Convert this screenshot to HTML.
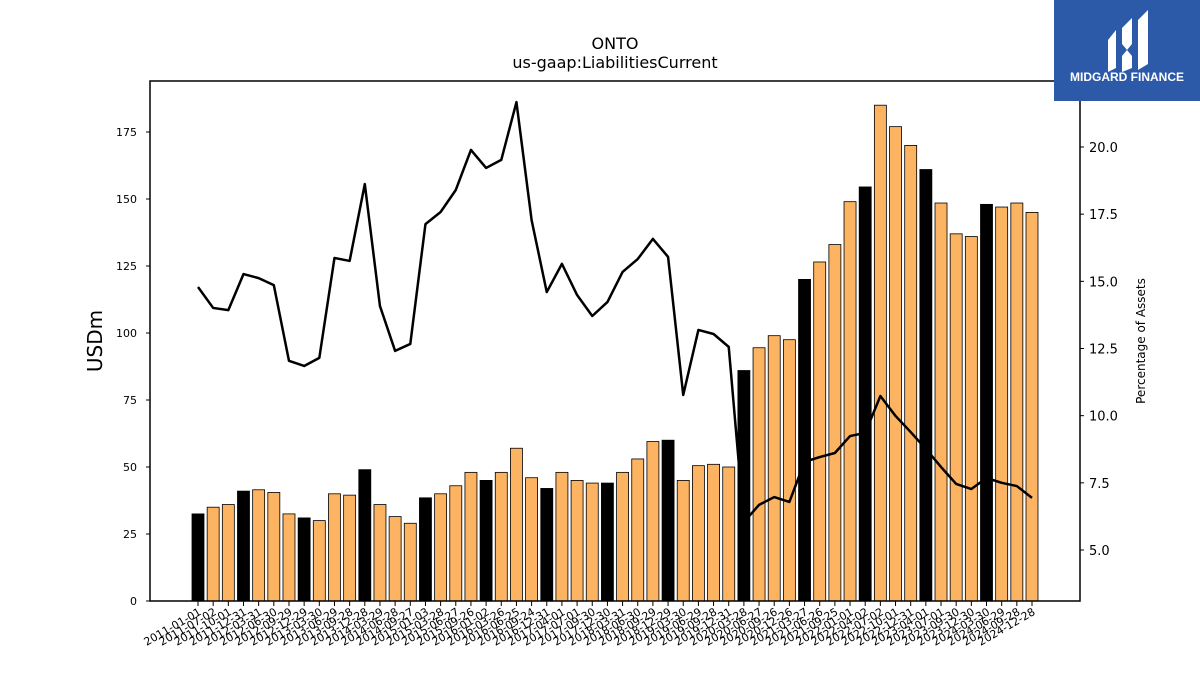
<!DOCTYPE html>
<html><head><meta charset="utf-8">
<style>
html,body{margin:0;padding:0;background:#fff;width:1200px;height:675px;overflow:hidden;font-family:"Liberation Sans","DejaVu Sans",sans-serif;}
svg text{font-family:"DejaVu Sans","Liberation Sans",sans-serif;}
</style></head>
<body>
<svg id="chart" width="1200" height="675" xmlns="http://www.w3.org/2000/svg">
<text x="615" y="49" font-size="16" text-anchor="middle">ONTO</text>
<text x="615" y="68" font-size="16" text-anchor="middle">us-gaap:LiabilitiesCurrent</text>
<g id="bars"></g>
<g id="line"></g>
<rect x="150" y="81" width="930" height="520" fill="none" stroke="#000" stroke-width="1.5"/>
<g id="axes"></g>
<text transform="translate(102,341) rotate(-90)" font-size="20" text-anchor="middle">USDm</text>
<text transform="translate(1145,341) rotate(-90)" font-size="12" text-anchor="middle">Percentage of Assets</text>
<g>
<rect x="1054" y="0" width="146" height="101" fill="#2c5aa8"/>
<path d="M1108 40 L1116 30 L1116 68 L1108 72 Z" fill="#fff"/>
<path d="M1122 28 L1132 18 L1132 44 L1127 50 L1122 44 Z" fill="#fff"/>
<path d="M1122 56 L1127 50 L1132 56 L1132 68 L1122 72 Z" fill="#fff"/>
<path d="M1138 20 L1148 10 L1148 64 L1138 70 Z" fill="#fff"/>
<text x="1127" y="81" font-size="12" font-weight="bold" fill="#fff" text-anchor="middle" style="font-family:'Liberation Sans',sans-serif">MIDGARD FINANCE</text>
</g>
</svg>
<script>
const dates=["2011-01-01","2011-07-02","2011-10-01","2011-12-31","2012-03-31","2012-06-30","2012-09-29","2012-12-29","2013-03-30","2013-06-29","2013-09-28","2013-12-28","2014-03-29","2014-06-28","2014-09-27","2015-01-03","2015-03-28","2015-06-27","2015-09-26","2016-01-02","2016-03-26","2016-06-25","2016-09-24","2016-12-31","2017-04-01","2017-07-01","2017-09-30","2017-12-30","2018-03-31","2018-06-30","2018-09-29","2018-12-29","2019-03-30","2019-06-29","2019-09-28","2019-12-31","2020-03-28","2020-06-27","2020-09-26","2020-12-26","2021-03-27","2021-06-26","2021-09-25","2022-01-01","2022-04-02","2022-07-02","2022-10-01","2022-12-31","2023-04-01","2023-07-01","2023-09-30","2023-12-30","2024-03-30","2024-06-29","2024-09-28","2024-12-28"];
const liabilities=[32.5,35,36,41,41.5,40.5,32.5,31,30,40,39.5,49,36,31.5,29,38.5,40,43,48,45,48,57,46,42,48,45,44,44,48,53,59.5,60,45,50.5,51,50,86,94.5,99,97.5,120,126.5,133,149,154.5,185,177,170,161,148.5,137,136,148,147,148.5,145];
const yearEnd=[1,0,0,1,0,0,0,1,0,0,0,1,0,0,0,1,0,0,0,1,0,0,0,1,0,0,0,1,0,0,0,1,0,0,0,0,1,0,0,0,1,0,0,0,1,0,0,0,1,0,0,0,1,0,0,0];
const pctAssets=[14.79,14.01,13.93,15.27,15.12,14.86,12.04,11.85,12.15,15.87,15.76,18.62,14.08,12.41,12.67,17.13,17.58,18.40,19.89,19.22,19.52,21.67,17.28,14.60,15.65,14.49,13.71,14.23,15.35,15.83,16.58,15.91,10.77,13.19,13.04,12.56,6.04,6.68,6.97,6.79,8.28,8.46,8.61,9.24,9.36,10.73,9.99,9.39,8.76,8.09,7.46,7.27,7.68,7.50,7.38,6.94];
const leftTicks=[0,25,50,75,100,125,150,175];
const rightTicks=[5.0,7.5,10.0,12.5,15.0,17.5,20.0];

const NS="http://www.w3.org/2000/svg";
const x0=198,x1=1032;
const xs=i=>x0+(x1-x0)*i/(dates.length-1);
const yL=v=>601-v*(469/175);
const yR=v=>550-(v-5)*(403/15);
function mk(t,a){const e=document.createElementNS(NS,t);for(const k in a)e.setAttribute(k,a[k]);return e;}
const bars=document.getElementById('bars'),line=document.getElementById('line'),axes=document.getElementById('axes');
const bw=12;
liabilities.forEach((v,i)=>{
  const r=mk('rect',{x:xs(i)-bw/2,y:yL(v),width:bw,height:601-yL(v),fill:yearEnd[i]?'#000':'#fdb462',stroke:'#000','stroke-width':0.8});
  
  
  bars.appendChild(r);
});
const pts=pctAssets.map((v,i)=>xs(i)+','+yR(v)).join(' ');
const pl=mk('polyline',{points:pts,fill:'none',stroke:'#000','stroke-width':2.5,'stroke-linejoin':'round'});


line.appendChild(pl);
leftTicks.forEach(v=>{
  const y=yL(v);
  const t=mk('line',{x1:146,x2:150,y1:y,y2:y,stroke:'#000'});
  
  
  axes.appendChild(t);
  const l=mk('text',{x:137,y:y+4,'font-size':11,'text-anchor':'end'});
  
  
  l.textContent=v;axes.appendChild(l);
});
rightTicks.forEach(v=>{
  const y=yR(v);
  const t=mk('line',{x1:1080,x2:1084,y1:y,y2:y,stroke:'#000'});
  
  
  axes.appendChild(t);
  const l=mk('text',{x:1089,y:y+5,'font-size':13});
  
  
  l.textContent=v.toFixed(1);axes.appendChild(l);
});
dates.forEach((d,i)=>{
  const x=xs(i);
  const t=mk('line',{x1:x,x2:x,y1:601,y2:606,stroke:'#000'});
  
  
  axes.appendChild(t);
  const l=mk('text',{transform:'translate('+(x+4)+',614) rotate(-30)','font-size':11,'text-anchor':'end'});
  
  
  l.textContent=d;axes.appendChild(l);
});
</script>
</body></html>
